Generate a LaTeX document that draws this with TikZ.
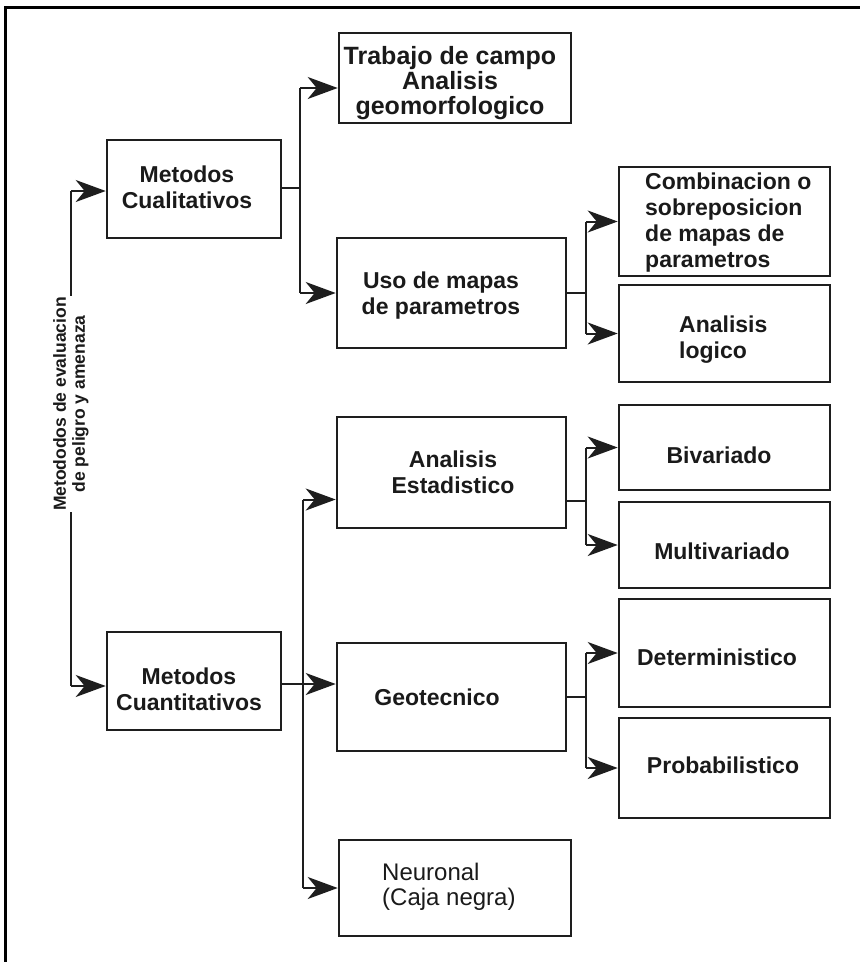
\documentclass[tikz,border=0pt]{standalone}
\usepackage{fontspec}
\setmainfont{Liberation Sans}
\usetikzlibrary{arrows.meta}
\definecolor{ink}{HTML}{1E1E1E}
\definecolor{txtc}{HTML}{1A1A1A}
\begin{document}
\begin{tikzpicture}[x=1pt,y=-1pt,
  box/.style={draw=ink, line width=2.6pt, inner sep=0pt},
  lbl/.style={font=\bfseries\fontsize{23}{26}\selectfont, text=txtc, inner sep=0pt, align=center},
  lbll/.style={lbl, align=left, anchor=west},
  conn/.style={draw=ink, line width=2pt},
  arr/.style={conn, -{Stealth[length=30pt,width=22pt,inset=9pt]}},
  frame/.style={draw=black, line width=3pt}
]
\useasboundingbox (0,0) rectangle (860,962);
\draw[frame] (5,962) -- (5,7) -- (860,7);

% boxes
\node[box, minimum width=174pt, minimum height=98pt] (cual) at (194,189) {};
\node[box, minimum width=174pt, minimum height=98pt] (cuan) at (194,681) {};
\node[box, minimum width=232pt, minimum height=90pt] (trab) at (455,78) {};
\node[box, minimum width=229pt, minimum height=110pt] (uso) at (451.5,293) {};
\node[box, minimum width=229pt, minimum height=111pt] (estad) at (451.5,472.5) {};
\node[box, minimum width=229pt, minimum height=108pt] (geo) at (451.5,697) {};
\node[box, minimum width=232pt, minimum height=96pt] (neur) at (455,888) {};
\node[box, minimum width=211pt, minimum height=109pt] (comb) at (724.5,221.5) {};
\node[box, minimum width=211pt, minimum height=97pt] (logi) at (724.5,333.5) {};
\node[box, minimum width=211pt, minimum height=85pt] (biv) at (724.5,447.5) {};
\node[box, minimum width=211pt, minimum height=86pt] (mult) at (724.5,545) {};
\node[box, minimum width=211pt, minimum height=108pt] (det) at (724.5,653) {};
\node[box, minimum width=211pt, minimum height=100pt] (prob) at (724.5,768) {};

% texts
\node[lbl] (cualT) at (187,187) {Metodos\\Cualitativos};
\node[lbl] (cuanT) at (189,689) {Metodos\\Cuantitativos};
\node[lbl, font=\bfseries\fontsize{25}{25}\selectfont] (trabT) at (450,83) {Trabajo de campo\\Analisis\\geomorfologico};
\node[lbl] (usoT) at (441,296) {Uso de mapas\\de parametros};
\node[lbll] (combT) at (645,223) {Combinacion o\\sobreposicion\\de mapas de\\parametros};
\node[lbll] (logiT) at (679,340) {Analisis\\logico};
\node[lbl] (estadT) at (453,472) {Analisis\\Estadistico};
\node[lbl] (bivT) at (719,455) {Bivariado};
\node[lbl] (multT) at (722,551) {Multivariado};
\node[lbl] (geoT) at (437,697) {Geotecnico};
\node[lbl] (detT) at (717,657) {Deterministico};
\node[lbl] (probT) at (723,765) {Probabilistico};
\node[lbll, font=\fontsize{24}{25}\selectfont] (neurT) at (382,887) {Neuronal\\(Caja negra)};

% junction x positions
\coordinate (L) at (71,0);
\coordinate (J1) at (300,0);
\coordinate (J2) at (586,0);
\coordinate (J3) at (303,0);

% root
\draw[conn] ([yshift=-2pt]cual.west -| L) -- ([yshift=-5pt]cuan.west -| L);
\draw[arr] ([yshift=-2pt]cual.west -| L) -- ([yshift=-2pt]cual.west);
\draw[arr] ([yshift=-5pt]cuan.west -| L) -- ([yshift=-5pt]cuan.west);
\node[font=\bfseries\fontsize{17.5}{19}\selectfont, text=txtc, fill=white, inner sep=1pt, align=center, rotate=90] (title) at (71,404) {Metododos de evaluacion\\de peligro y amenaza};

% cualitativos branch
\draw[conn] ([yshift=1pt]cual.east) -- ([yshift=1pt]cual.east -| J1);
\draw[conn] ([yshift=-10pt]trab.west -| J1) -- (uso.west -| J1);
\draw[arr] ([yshift=-10pt]trab.west -| J1) -- ([yshift=-10pt]trab.west);
\draw[arr] (uso.west -| J1) -- (uso.west);

% uso branch
\draw[conn] (uso.east) -- (uso.east -| J2);
\draw[conn] (comb.west -| J2) -- (logi.west -| J2);
\draw[arr] (comb.west -| J2) -- (comb.west);
\draw[arr] (logi.west -| J2) -- (logi.west);

% cuantitativos branch
\draw[conn] ([yshift=-27pt]estad.west -| J3) -- (neur.west -| J3);
\draw[arr] ([yshift=-3pt]cuan.east) -- ([yshift=-3pt]cuan.east -| geo.west);
\draw[arr] ([yshift=-27pt]estad.west -| J3) -- ([yshift=-27pt]estad.west);
\draw[arr] (neur.west -| J3) -- (neur.west);

% estadistico branch
\draw[conn] ([yshift=-28pt]estad.east) -- ([yshift=-28pt]estad.east -| J2);
\draw[conn] (biv.west -| J2) -- (mult.west -| J2);
\draw[arr] (biv.west -| J2) -- (biv.west);
\draw[arr] (mult.west -| J2) -- (mult.west);

% geotecnico branch
\draw[conn] (geo.east) -- (geo.east -| J2);
\draw[conn] (det.west -| J2) -- (prob.west -| J2);
\draw[arr] (det.west -| J2) -- (det.west);
\draw[arr] (prob.west -| J2) -- (prob.west);
\end{tikzpicture}
\end{document}
